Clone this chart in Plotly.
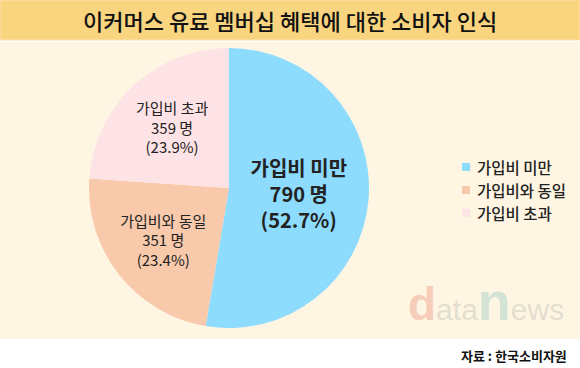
import plotly.graph_objects as go

categories = ["가입비 미만", "가입비와 동일", "가입비 초과"]
counts = [790, 351, 359]
percents = [52.7, 23.4, 23.9]
colors = ["#8DDBFD", "#F8C9AB", "#FEE3E6"]
title = "이커머스 유료 멤버십 혜택에 대한 소비자 인식"
source = "자료 : 한국소비자원"

FONT = "Noto Sans CJK KR"
W, H = 580, 368

def px(x):
    return x / W

def py(y):
    return 1 - y / H

texts = []
for i, (c, n, p) in enumerate(zip(categories, counts, percents)):
    t = f"{c}<br>{n} 명<br>({p}%)"
    if i == 0:
        t = f"<b>{t}</b>"
    texts.append(t)

cx, cy, r = 229, 188, 140
fig = go.Figure(go.Pie(
    labels=categories, values=counts, text=texts,
    textinfo="text", textposition="inside", insidetextorientation="horizontal",
    marker=dict(colors=colors, line=dict(width=0)),
    sort=False, direction="clockwise", rotation=0,
    textfont=dict(family=FONT, size=[20, 15, 15], color="#222222"),
    hoverinfo="label+value+percent",
    domain=dict(x=[px(cx - r), px(cx + r)], y=[py(cy + r), py(cy - r)]),
))

shapes = [
    dict(type="rect", xref="paper", yref="paper", x0=0, x1=1, y0=py(339), y1=py(42),
         fillcolor="#FEF6E3", line=dict(width=0), layer="below"),
    dict(type="rect", xref="paper", yref="paper", x0=0, x1=1, y0=py(40), y1=1,
         fillcolor="#F9D57F", line=dict(width=1, color="#F8E3AE"), layer="below"),
]
annotations = [
    dict(text=title, x=0.5, y=py(20), xref="paper", yref="paper",
         showarrow=False, font=dict(family=FONT, size=22, color="#111", weight=500),
         xanchor="center", yanchor="middle"),
    dict(text=f"<b>{source}</b>", x=px(569), y=py(355), xref="paper", yref="paper",
         showarrow=False, font=dict(family=FONT, size=13, color="#111"), xanchor="right", yanchor="middle"),
    dict(text="<b><span style='color:#F5CDB8;font-size:46px'>d</span></b>"
              "<span style='color:#E4DED1;font-size:30px'>ata</span>"
              "<b><span style='color:#D3E4D7;font-size:54px'>n</span></b>"
              "<span style='color:#E4DED1;font-size:30px'>ews</span>",
         x=px(406), y=py(333), xref="paper", yref="paper", showarrow=False,
         font=dict(family="Liberation Sans", size=30), xanchor="left", yanchor="bottom"),
]

leg_y = [167, 190, 213]
for c, col, yy in zip(categories, colors, leg_y):
    shapes.append(dict(type="rect", xref="paper", yref="paper", x0=px(462), x1=px(470),
                       y0=py(yy + 4), y1=py(yy - 4), fillcolor=col, line=dict(width=0)))
    annotations.append(dict(text=c, x=px(475), y=py(yy), xref="paper", yref="paper",
                            showarrow=False, xanchor="left", yanchor="middle",
                            font=dict(family=FONT, size=15.5, color="#222", weight=500)))

fig.update_layout(
    width=W, height=H, margin=dict(l=0, r=0, t=0, b=0),
    paper_bgcolor="white", plot_bgcolor="white",
    font=dict(family=FONT),
    showlegend=False,
    shapes=shapes,
    annotations=annotations,
)

fig.write_html("out.html", config={"displayModeBar": False},
               post_script="document.body.style.margin='0';document.body.style.overflow='hidden';")
